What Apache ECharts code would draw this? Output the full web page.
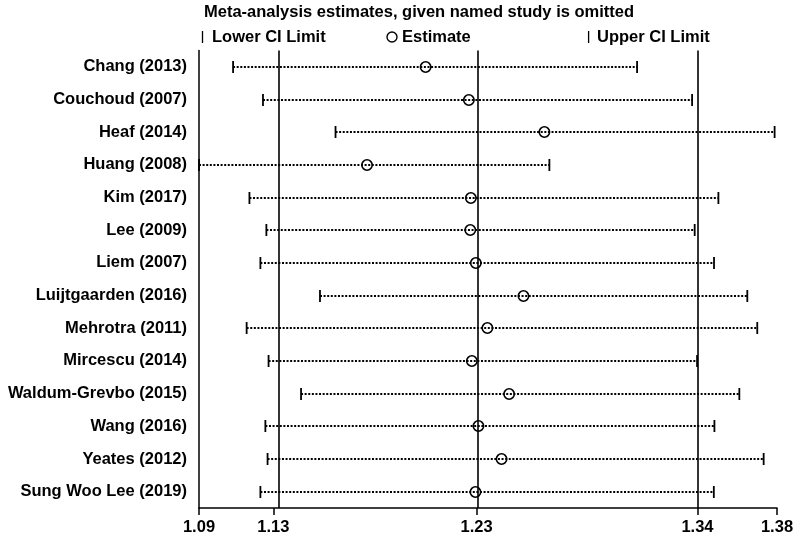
<!DOCTYPE html>
<html>
<head>
<meta charset="utf-8">
<script src="https://cdn.jsdelivr.net/npm/echarts@6/dist/echarts.min.js"></script>
<style>
html,body{margin:0;padding:0;background:#fff;}
#chart{width:800px;height:538px;}
</style>
</head>
<body>
<div id="chart"></div>
<script>
const studies = ['Chang (2013)','Couchoud (2007)','Heaf (2014)','Huang (2008)','Kim (2017)','Lee (2009)','Liem (2007)','Luijtgaarden (2016)','Mehrotra (2011)','Mircescu (2014)','Waldum-Grevbo (2015)','Wang (2016)','Yeates (2012)','Sung Woo Lee (2019)'];
const lowerCI  = [1.1071,1.1221,1.1585,1.0900,1.1153,1.1238,1.1208,1.1507,1.1139,1.1249,1.1412,1.1233,1.1244,1.1208];
const estimate = [1.2037,1.2254,1.2633,1.1743,1.2264,1.2261,1.2289,1.2528,1.2347,1.2269,1.2456,1.2302,1.2418,1.2287];
const upperCI  = [1.3098,1.3374,1.3788,1.2658,1.3506,1.3387,1.3484,1.3651,1.3701,1.3399,1.3611,1.3486,1.3733,1.3483];
const refLines = [1.1273,1.2293,1.3401];
const tickValues = [1.09,1.1273,1.2293,1.3401,1.38];
const tickLabels = ['1.09','1.13','1.23','1.34','1.38'];
const titleText = 'Meta-analysis estimates, given named study is omitted';
const legendLabels = ['Lower CI Limit','Estimate','Upper CI Limit'];

const FONT = "'Liberation Sans', Arial, Helvetica, sans-serif";
const FS = 16.5;

const rows = studies.map((s,i)=>[lowerCI[i], estimate[i], upperCI[i], s]);

const chart = echarts.init(document.getElementById('chart'), null, {renderer:'canvas'});
chart.setOption({
  backgroundColor:'#fff',
  animation:false,
  grid:{left:199, right:23, top:50.5, bottom:30, containLabel:false},
  xAxis:{
    type:'value', min:1.09, max:1.38,
    axisLine:{show:true, lineStyle:{color:'#000', width:1.5}},
    axisTick:{show:true, length:7, customValues:tickValues, lineStyle:{color:'#000', width:1.5}},
    axisLabel:{show:true, customValues:tickValues, margin:11, color:'#000', fontFamily:FONT, fontSize:FS, fontWeight:'bold',
      formatter:function(v){ const k = tickValues.findIndex(t=>Math.abs(t-v)<1e-6); return k>=0 ? tickLabels[k] : ''; }},
    splitLine:{show:false}
  },
  yAxis:{
    type:'category', data:studies, inverse:true,
    axisLine:{show:true, lineStyle:{color:'#000', width:1.5}},
    axisTick:{show:false},
    axisLabel:{margin:12, color:'#000', fontFamily:FONT, fontSize:FS, fontWeight:'bold'},
    splitLine:{show:false}
  },
  series:[
    {
      type:'line',
      data:[],
      silent:true,
      markLine:{
        silent:true, symbol:'none', label:{show:false},
        lineStyle:{color:'#000', width:1.6, type:'solid'},
        data: refLines.map(v=>({xAxis:v}))
      }
    },
    {
      type:'custom',
      dimensions:['lower','est','upper','study'],
      data:rows,
      encode:{x:['lower','est','upper'], y:'study'},
      renderItem:function(params, api){
        const idx = api.value(3);
        const pL = api.coord([api.value(0), idx]);
        const pE = api.coord([api.value(1), idx]);
        const pU = api.coord([api.value(2), idx]);
        const y = Math.round(pL[1]);
        const h = 6;
        return {type:'group', children:[
          {type:'line', shape:{x1:pL[0], y1:y, x2:pU[0], y2:y},
           style:{stroke:'#000', lineWidth:2, lineDash:[2,1.6]}},
          {type:'line', shape:{x1:pL[0], y1:y-h, x2:pL[0], y2:y+h},
           style:{stroke:'#000', lineWidth:1.8}},
          {type:'line', shape:{x1:pU[0], y1:y-h, x2:pU[0], y2:y+h},
           style:{stroke:'#000', lineWidth:1.8}},
          {type:'circle', shape:{cx:pE[0], cy:y, r:5.2},
           style:{stroke:'#000', fill:'none', lineWidth:1.6}}
        ]};
      },
      z:3
    }
  ],
  graphic:[
    {type:'text', x:204, y:12, style:{text:titleText, fill:'#000', font:'bold '+FS+'px '+FONT, verticalAlign:'middle', align:'left'}},
    {type:'line', shape:{x1:202.5, y1:31, x2:202.5, y2:43}, style:{stroke:'#000', lineWidth:1.3}},
    {type:'text', x:212, y:37.5, style:{text:legendLabels[0], fill:'#000', font:'bold '+FS+'px '+FONT, verticalAlign:'middle', align:'left'}},
    {type:'circle', shape:{cx:392, cy:37, r:5}, style:{stroke:'#000', fill:'none', lineWidth:1.4}},
    {type:'text', x:402, y:37.5, style:{text:legendLabels[1], fill:'#000', font:'bold '+FS+'px '+FONT, verticalAlign:'middle', align:'left'}},
    {type:'line', shape:{x1:588.6, y1:31, x2:588.6, y2:43}, style:{stroke:'#000', lineWidth:1.3}},
    {type:'text', x:597, y:37.5, style:{text:legendLabels[2], fill:'#000', font:'bold '+FS+'px '+FONT, verticalAlign:'middle', align:'left'}}
  ]
});
</script>
</body>
</html>
